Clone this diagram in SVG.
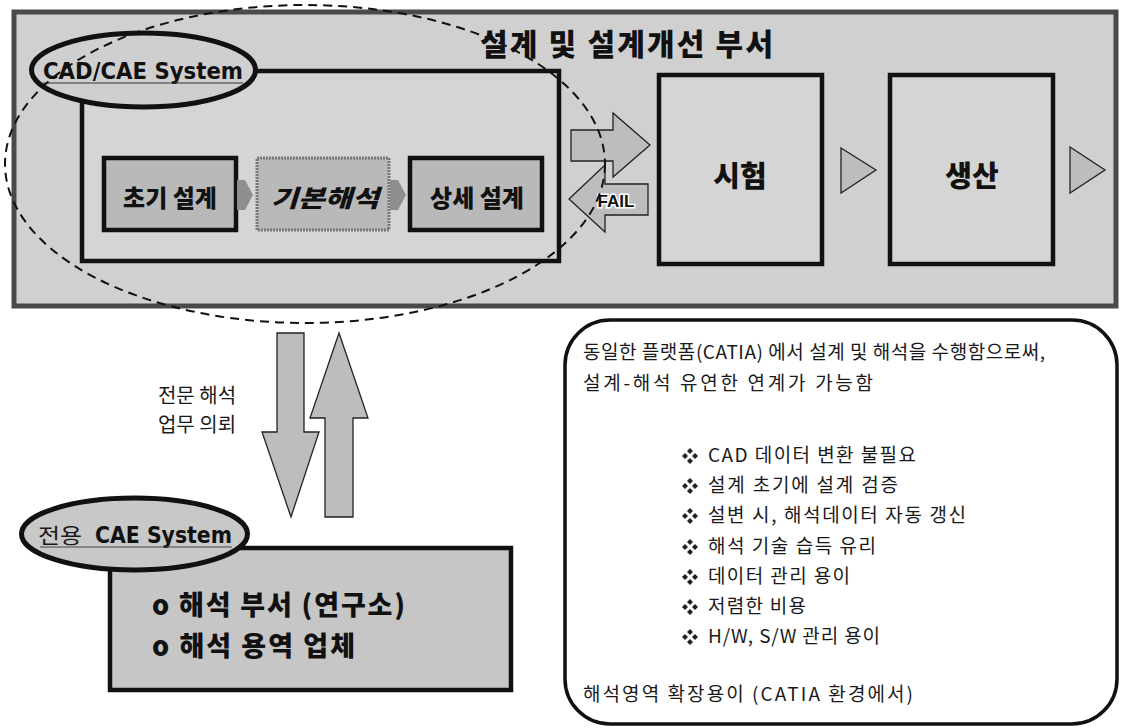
<svg xmlns="http://www.w3.org/2000/svg" width="1121" height="728" viewBox="0 0 1121 728">
<defs>
<style>
.kb{font-family:"Noto Sans CJK KR","Noto Sans",sans-serif;font-weight:900;fill:#111}
.kr{font-family:"Noto Sans CJK KR","Noto Sans",sans-serif;font-weight:400;fill:#1a1a1a}
.en{font-family:"DejaVu Sans",sans-serif;font-weight:700;fill:#111}
.frame{stroke:#111;stroke-width:4.5}
.blk{fill:#bdbdbd;stroke:#222;stroke-width:1.3}
.chev{fill:#8e8e8e}
.rt{font-size:19px}
</style>
<g id="bullet">
<polygon points="0,-8 3,-5 0,-2 -3,-5" fill="#222"/>
<polygon points="0,2 3,5 0,8 -3,5" fill="#222"/>
<polygon points="-8,0 -5,-3 -2,0 -5,3" fill="#222"/>
<polygon points="2,0 5,-3 8,0 5,3" fill="#222"/>
</g>
</defs>
<rect width="1121" height="728" fill="#ffffff"/>

<g id="dept">
<rect x="14" y="12" width="1102" height="294" fill="#d0d0d0" stroke="#4a4a4a" stroke-width="5"/>
<text class="kb" x="480" y="55" font-size="30" textLength="293" lengthAdjust="spacing">설계 및 설계개선 부서</text>
</g>

<g id="cad-cae-system">
<rect x="82" y="71" width="477" height="190" fill="#d5d5d5" class="frame"/>
<ellipse cx="143.5" cy="70" rx="112" ry="37" fill="#cfcfcf" stroke="#111" stroke-width="5"/>
<text class="en" x="43" y="79" font-size="23" textLength="200" lengthAdjust="spacingAndGlyphs">CAD/CAE System</text>
<line x1="43" y1="83" x2="243" y2="83" stroke="#333" stroke-width="1"/>
</g>

<g id="initial-design">
<rect x="104" y="158" width="132" height="72" fill="#b9b9b9" class="frame"/>
<text class="kb" x="170" y="207" font-size="24" text-anchor="middle">초기 설계</text>
</g>
<g id="basic-analysis">
<rect x="257" y="158" width="132" height="72" fill="#b9b9b9" stroke="#777" stroke-width="3" stroke-dasharray="2 1"/>
<text class="kb" x="325" y="207" font-size="24" text-anchor="middle" font-style="italic" textLength="108" lengthAdjust="spacingAndGlyphs">기본해석</text>
</g>
<g id="detail-design">
<rect x="410" y="158" width="132" height="72" fill="#b9b9b9" class="frame"/>
<text class="kb" x="477" y="207" font-size="24" text-anchor="middle">상세 설계</text>
</g>

<g id="test">
<rect x="659" y="75" width="163" height="189" fill="#d5d5d5" class="frame"/>
<text class="kb" x="740" y="187" font-size="29" text-anchor="middle">시험</text>
</g>
<g id="production">
<rect x="890" y="75" width="163" height="189" fill="#d5d5d5" class="frame"/>
<text class="kb" x="972" y="187" font-size="29" text-anchor="middle">생산</text>
</g>

<g id="connectors">
<polygon class="chev" points="237,180 245,180 253,195 245,210 237,210"/>
<polygon class="chev" points="390,180 398,180 406,195 398,210 390,210"/>
<polygon class="blk" points="571,130 613,130 613,113 650,145 613,177 613,161 571,161"/>
<polygon class="blk" points="648,184 605,184 605,165 569,199 605,232 605,215 648,215"/>
<text x="616" y="207" font-family="Liberation Sans, Arial, sans-serif" font-weight="700" font-size="17" text-anchor="middle" fill="#111" stroke="#ffffff" stroke-width="3" paint-order="stroke">FAIL</text>
<polygon class="blk" points="841,148 876,170 841,193"/>
<polygon class="blk" points="1070,147 1105,170 1070,193"/>
<polygon class="blk" points="277,333 304,333 304,432 319,432 291,517 262,432 277,432"/>
<polygon class="blk" points="339,333 368,418 353,418 353,517 325,517 325,418 310,418"/>
<ellipse cx="305" cy="164" rx="300" ry="159" fill="none" stroke="#111" stroke-width="2" stroke-dasharray="9 6"/>
</g>

<g id="request-label">
<text class="kr" x="197" y="403" font-size="20" text-anchor="middle">전문 해석</text>
<text class="kr" x="197" y="432" font-size="20" text-anchor="middle">업무 의뢰</text>
</g>

<g id="dedicated-cae">
<rect x="110" y="548" width="401" height="142" fill="#c6c6c6" class="frame"/>
<ellipse cx="134.5" cy="534" rx="113" ry="36" fill="#c8c8c8" stroke="#111" stroke-width="5"/>
<text class="kr" x="38" y="543" font-size="21" fill="#333" textLength="44" lengthAdjust="spacingAndGlyphs">전용</text>
<text class="en" x="95" y="543" font-size="23" textLength="137" lengthAdjust="spacingAndGlyphs">CAE System</text>
<line x1="40" y1="547" x2="232" y2="547" stroke="#444" stroke-width="1"/>
<text class="kb" x="152" y="615" font-size="27" textLength="253" lengthAdjust="spacing">o 해석 부서 (연구소)</text>
<text class="kb" x="152" y="656" font-size="27" textLength="203" lengthAdjust="spacing">o 해석 용역 업체</text>
</g>

<g id="benefits">
<rect x="565" y="320" width="552" height="404" rx="45" ry="45" fill="#ffffff" stroke="#111" stroke-width="3.5"/>
<text class="kr rt" x="583" y="359" textLength="462" lengthAdjust="spacing">동일한 플랫폼(CATIA) 에서 설계 및 해석을 수행함으로써,</text>
<text class="kr rt" x="583" y="390" textLength="290" lengthAdjust="spacing">설계-해석 유연한 연계가 가능함</text>
<use href="#bullet" x="690" y="456"/>
<text class="kr rt" x="708" y="462" textLength="208" lengthAdjust="spacing">CAD 데이터 변환 불필요</text>
<use href="#bullet" x="690" y="486"/>
<text class="kr rt" x="708" y="492" textLength="190" lengthAdjust="spacing">설계 초기에 설계 검증</text>
<use href="#bullet" x="690" y="516"/>
<text class="kr rt" x="708" y="522" textLength="258" lengthAdjust="spacing">설변 시, 해석데이터 자동 갱신</text>
<use href="#bullet" x="690" y="547"/>
<text class="kr rt" x="708" y="553" textLength="168" lengthAdjust="spacing">해석 기술 습득 유리</text>
<use href="#bullet" x="690" y="577"/>
<text class="kr rt" x="708" y="583" textLength="142" lengthAdjust="spacing">데이터 관리 용이</text>
<use href="#bullet" x="690" y="607"/>
<text class="kr rt" x="708" y="613" textLength="98" lengthAdjust="spacing">저렴한 비용</text>
<use href="#bullet" x="690" y="637"/>
<text class="kr rt" x="708" y="643" textLength="172" lengthAdjust="spacing">H/W, S/W 관리 용이</text>
<text class="kr rt" x="583" y="701" textLength="330" lengthAdjust="spacing">해석영역 확장용이 (CATIA 환경에서)</text>
</g>
</svg>
